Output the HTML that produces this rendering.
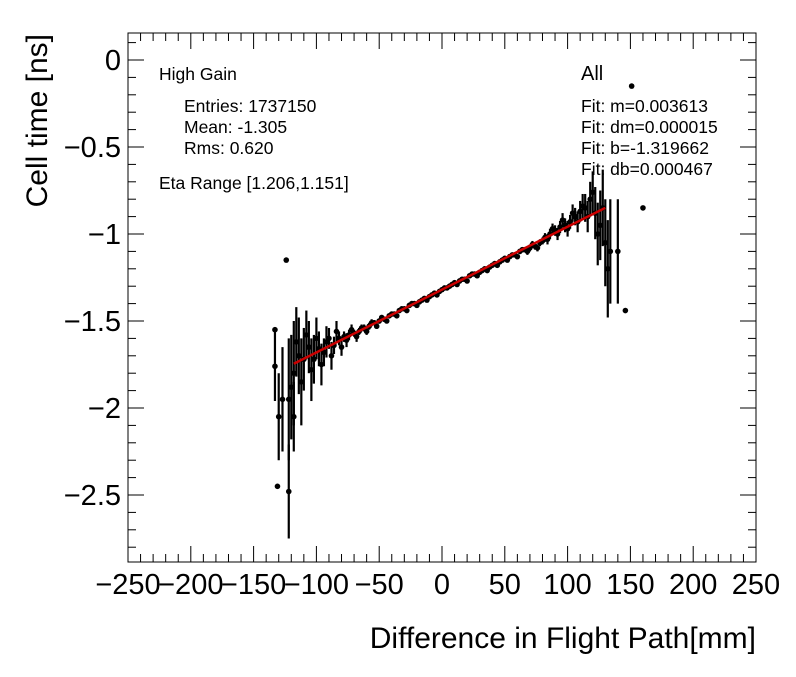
<!DOCTYPE html>
<html><head><meta charset="utf-8"><style>
body{margin:0;background:#fff}
svg text{font-family:"Liberation Sans",sans-serif}
</style></head><body>
<svg id="c" width="796" height="672" xmlns="http://www.w3.org/2000/svg"></svg>
<script>
const xs=[-122,-118,-114,-110,-106,-102,-98,-94,-90,-86,-82,-78,-74,-70,-66,-62,-58,-54,-50,-46,-42,-38,-34,-30,-26,-22,-18,-14,-10,-6,-2,2,6,10,14,18,22,26,30,34,38,42,46,50,54,58,62,66,70,74,78,82,86,90,94,98,102,106,110,114,118,122,126,130,134];
const ys=[-1.95,-1.80,-1.70,-1.72,-1.65,-1.72,-1.66,-1.68,-1.60,-1.64,-1.60,-1.59,-1.58,-1.57,-1.56,-1.54,-1.53,-1.51,-1.50,-1.49,-1.47,-1.46,-1.44,-1.43,-1.41,-1.40,-1.39,-1.37,-1.36,-1.34,-1.33,-1.31,-1.30,-1.28,-1.27,-1.26,-1.24,-1.23,-1.22,-1.20,-1.19,-1.17,-1.16,-1.14,-1.13,-1.12,-1.10,-1.09,-1.08,-1.07,-1.05,-1.02,-1.00,-0.98,-0.96,-0.95,-0.93,-0.90,-0.87,-0.85,-0.80,-0.88,-0.95,-1.05,-1.10];
const es=[0.35,0.30,0.22,0.18,0.15,0.14,0.10,0.08,0.06,0.05,0.04,0.03,0.03,0.02,0.02,0.02,0.02,0.015,0.015,0.01,0.01,0.01,0.01,0.01,0.01,0.01,0.01,0.01,0.01,0.01,0.01,0.01,0.01,0.01,0.01,0.01,0.01,0.01,0.01,0.01,0.01,0.01,0.01,0.01,0.01,0.01,0.015,0.015,0.02,0.02,0.02,0.025,0.03,0.03,0.035,0.04,0.04,0.05,0.06,0.08,0.10,0.15,0.20,0.25,0.30];
const xs2=[-120,-116,-112,-108,-104,-100,-96,-92,-88,-84,-80,-76,-72,-68,-64,-60,-56,-52,-48,-44,-40,-36,-32,-28,-24,-20,-16,-12,-8,-4,0,4,8,12,16,20,24,28,32,36,40,44,48,52,56,60,64,68,72,76,80,84,88,92,96,100,104,108,112,116,120,124,128,132];
const ys2=[-1.88,-1.62,-1.85,-1.58,-1.78,-1.60,-1.75,-1.62,-1.70,-1.56,-1.65,-1.61,-1.55,-1.59,-1.54,-1.56,-1.51,-1.53,-1.48,-1.50,-1.46,-1.47,-1.43,-1.44,-1.40,-1.41,-1.38,-1.38,-1.35,-1.35,-1.32,-1.31,-1.29,-1.29,-1.26,-1.27,-1.23,-1.24,-1.21,-1.21,-1.18,-1.18,-1.15,-1.15,-1.12,-1.13,-1.09,-1.10,-1.06,-1.08,-1.04,-1.03,-0.97,-1.00,-0.92,-0.97,-0.88,-0.93,-0.84,-0.90,-0.76,-1.00,-0.85,-1.20];
const es2=[0.30,0.20,0.25,0.14,0.18,0.12,0.12,0.09,0.08,0.06,0.05,0.04,0.03,0.03,0.02,0.02,0.02,0.015,0.015,0.01,0.01,0.01,0.01,0.01,0.01,0.01,0.01,0.01,0.01,0.01,0.01,0.01,0.01,0.01,0.01,0.01,0.01,0.01,0.01,0.01,0.01,0.01,0.01,0.01,0.01,0.015,0.015,0.02,0.02,0.02,0.02,0.03,0.03,0.035,0.04,0.045,0.05,0.06,0.07,0.09,0.12,0.18,0.22,0.28];
const oxs=[-133,-133,-130,-131,-124,-122,-118,-127,151,160,146,140];
const oys=[-1.55,-1.76,-2.05,-2.45,-1.15,-2.48,-2.05,-1.95,-0.15,-0.85,-1.44,-1.10];
const oes=[0,0.2,0.25,0,0,0.27,0.2,0.3,0,0,0,0.3];
const fitM=0.003613, fitB=-1.319662, fitX0=-118, fitX1=130;
const xTicks=[-250,-200,-150,-100,-50,0,50,100,150,200,250];
const yTicks=[0,-0.5,-1,-1.5,-2,-2.5];
const L=128,R=756,T=33,B=562;
const X=v=>442+v*1.256, Y=v=>60-v*174;
const s=document.getElementById('c'),NS='http://www.w3.org/2000/svg';
function el(t,a,txt){const e=document.createElementNS(NS,t);for(const k in a)e.setAttribute(k,a[k]);if(txt!==undefined)e.textContent=txt;s.appendChild(e);return e;}
let e=el('rect',{x:L,y:T,width:R-L,height:B-T,fill:'none',stroke:'#000','stroke-width':1});


for(let v=-250;v<=250;v+=10){const maj=v%50===0,l=maj?16:8,x=X(v);
 el('line',{x1:x,x2:x,y1:B,y2:B-l,stroke:'#000'});el('line',{x1:x,x2:x,y1:T,y2:T+l,stroke:'#000'});}
for(let i=-28;i<=1;i++){const v=i/10,maj=i%5===0,l=maj?16:8,y=Y(v);
 el('line',{x1:L,x2:L+l,y1:y,y2:y,stroke:'#000'});el('line',{x1:R,x2:R-l,y1:y,y2:y,stroke:'#000'});}
xTicks.forEach(v=>{e=el('text',{x:X(v),y:594,'font-size':29,'text-anchor':'middle'},String(v).replace('-','\u2212'));

});
yTicks.forEach(v=>{e=el('text',{x:121,y:Y(v)+10,'font-size':29,'text-anchor':'end'},String(v).replace('-','\u2212'));

});
e=el('text',{x:756,y:648,'font-size':30,'text-anchor':'end'},'Difference in Flight Path[mm]');


e=el('text',{x:0,y:0,'font-size':30,'text-anchor':'end',transform:'translate(47,34) rotate(-90)'},'Cell time [ns]');


function pt(x,y,er,name){
 if(er>0){e=el('line',{x1:X(x),x2:X(x),y1:Y(y-er),y2:Y(y+er),stroke:'#000','stroke-width':2.2});
 
 }
 e=el('circle',{cx:X(x),cy:Y(y),r:2.8,fill:'#000'});
 
 }
xs.forEach((x,i)=>pt(x,ys[i],es[i],'data-point'));
xs2.forEach((x,i)=>pt(x,ys2[i],es2[i],'data-point'));
oxs.forEach((x,i)=>pt(x,oys[i],oes[i],'outlier-point'));
e=el('line',{x1:X(fitX0),y1:Y(fitB+fitM*fitX0),x2:X(fitX1),y2:Y(fitB+fitM*fitX1),stroke:'#cc0000','stroke-width':2.5});


const txt=[[159,80,'High Gain'],[184,112,'Entries: 1737150'],[184,133,'Mean: -1.305'],[184,154,'Rms: 0.620'],[159,189,'Eta Range [1.206,1.151]'],[581,80,'All'],[581,112,'Fit: m=0.003613'],[581,133,'Fit: dm=0.000015'],[581,154,'Fit: b=-1.319662'],[581,175,'Fit: db=0.000467']];
txt.forEach(t=>{e=el('text',{x:t[0],y:t[1],'font-size':t[2]==='All'?20:17.5},t[2]);

});
</script>
</body></html>
